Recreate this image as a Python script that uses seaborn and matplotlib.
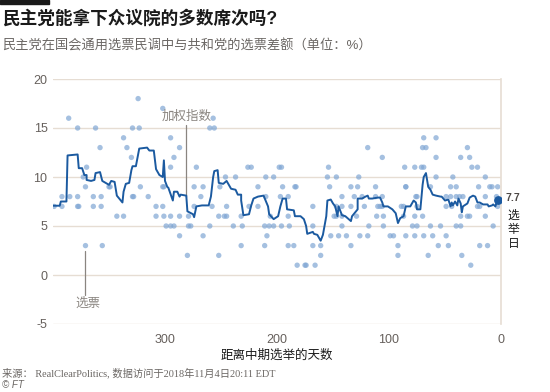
import matplotlib
matplotlib.use("Agg")
import matplotlib.pyplot as plt
import seaborn as sns
import pandas as pd

# ---- data: individual polls (days before election, Dem margin %) ----
poll_days = [399, 392, 392, 386, 385, 378, 378, 378, 377, 373, 371, 371, 370, 364, 364,
             362, 358, 357, 357, 356, 350, 349, 343, 337, 337, 334, 330, 329, 329, 328,
             324, 323, 322, 315, 308, 308, 302, 302, 302, 301, 301, 299, 295, 295, 295,
             295, 292, 292, 287, 287, 287, 280, 279, 279, 277, 274, 274, 272, 268, 266,
             266, 260, 260, 258, 257, 256, 252, 252, 251, 247, 246, 245, 245, 239, 237,
             232, 232, 231, 226, 225, 223, 217, 217, 211, 211, 210, 210, 209, 207, 203,
             203, 198, 206, 197, 196, 196, 195, 190, 190, 189, 190, 185, 184, 183, 182,
             175, 174, 168, 168, 168, 166, 161, 161, 155, 154, 153, 152, 149, 147, 147,
             147, 145, 142, 142, 142, 142, 138, 134, 134, 134, 131, 129, 128, 127, 126,
             124, 122, 119, 119, 118, 112, 112, 111, 110, 108, 106, 106, 106, 105, 105,
             99, 96, 92, 92, 89, 87, 87, 86, 85, 85, 85, 79, 77, 77, 77, 76, 75, 75, 75,
             71, 69, 70, 67, 69, 70, 69, 65, 63, 63, 61, 58, 58, 58, 56, 54, 49, 49, 49,
             47, 45, 40, 45, 40, 44, 43, 40, 37, 34, 36, 36, 35, 36, 28, 30, 30, 28, 27,
             26, 21, 21, 19, 20, 19, 14, 14, 14, 12, 10, 8, 7, 4, 3, 3]
poll_margin = [7, 7, 8, 16, 8, 15, 8, 7, 7, 10, 9, 3, 11, 8, 7,
               15, 13, 8, 7, 3, 9, 9, 6, 14, 6, 13, 12, 15, 8, 8,
               18, 15, 9, 8, 7, 6, 17, 7, 9, 9, 6, 5, 14, 11, 5,
               6, 5, 12, 13, 6, 4, 2, 6, 5, 5, 9, 7, 11, 8, 9,
               4, 15, 5, 7, 16, 15, 6, 2, 9, 6, 10, 6, 7, 5, 10,
               6, 3, 5, 11, 7, 11, 7, 9, 5, 3, 8, 10, 4, 5, 5,
               10, 11, 6, 8, 5, 11, 9, 8, 6, 5, 3, 3, 9, 9, 1,
               1, 1, 7, 5, 3, 1, 3, 2, 10, 11, 9, 4, 6, 6, 7,
               10, 4, 8, 7, 6, 5, 4, 7, 9, 3, 8, 6, 9, 10, 4,
               8, 7, 13, 4, 5, 8, 9, 6, 7, 7, 7, 12, 8, 6, 5,
               4, 4, 3, 2, 7, 7, 6, 11, 9, 9, 4, 5, 6, 11, 4, 8, 8, 7, 5,
               11, 11, 13, 13, 14, 6, 4, 2, 5, 9, 4, 14, 12, 10, 3, 5, 8, 7, 4,
               3, 8, 8, 9, 9, 7, 10, 5, 8, 8, 6, 5, 2, 12, 12, 13, 6, 6, 1,
               11, 11, 7, 7, 9, 3, 8, 6, 10, 3, 9, 9, 5, 8, 7, 9]

# ---- data: weighted index ----
avg_days = [400, 394, 393, 388, 387, 378, 377, 374, 372, 370, 370, 366, 363, 362, 358,
            356, 350, 348, 345, 343, 338, 337, 335, 332, 330, 329, 326, 323, 316, 314,
            310, 308, 305, 302, 301, 300, 298, 297, 293, 292, 289, 287, 286, 281, 280,
            280, 275, 274, 272, 267, 261, 259, 257, 256, 253, 252, 248, 245, 243, 241,
            237, 235, 232, 232, 230, 225, 223, 221, 217, 212, 208, 207, 203, 199, 197,
            195, 192, 191, 185, 184, 179, 176, 174, 173, 168, 167, 164, 161, 159, 159,
            156, 155, 152, 150, 148, 146, 145, 142, 139, 134, 133, 128, 128, 124, 121,
            119, 118, 115, 110, 108, 106, 105, 101, 97, 94, 92, 90, 87, 85, 81,
            78, 76, 75, 72, 70, 69, 67, 65, 63, 61, 58, 54, 53, 50, 47,
            45, 44, 43, 41, 39, 38, 36, 35, 34, 30, 28, 25, 23, 21, 19,
            16, 12, 11, 8, 7, 5, 4, 3]
avg_margin = [7.07, 7.07, 7.5, 7.5, 12.2, 12.3, 10.9, 10.9, 10.2, 10.2, 9.7, 9.6, 9.7, 10.4, 10.5,
              9.6, 9.2, 9.6, 9.5, 8.1, 7.4, 8.5, 9.3, 9.4, 10.7, 11.1, 11.1, 12.9, 13.0, 12.7,
              12.7, 10.8, 10.2, 10.0, 11.7, 9.6, 9.0, 8.9, 7.6, 8.5, 8.5, 8.0, 8.2, 8.1, 6.6,
              6.5, 6.2, 5.9, 7.0, 7.1, 7.1, 8.0, 10.0, 10.6, 10.7, 9.4, 9.3, 9.6, 9.2, 8.8,
              8.7, 8.2, 8.2, 7.6, 6.1, 6.2, 7.1, 7.8, 8.0, 8.1, 7.0, 6.2, 5.7, 6.0, 7.0,
              7.8, 7.8, 6.7, 6.6, 6.0, 6.0, 5.7, 5.0, 4.2, 4.4, 4.2, 4.1, 3.5, 4.1, 4.1,
              6.0, 7.6, 7.7, 7.3, 7.0, 6.0, 7.0, 6.1, 6.0, 5.5, 6.0, 6.7, 7.8, 7.8, 8.0,
              8.1, 7.8, 7.8, 7.9, 7.9, 7.4, 7.0, 7.0, 6.7, 6.3, 5.3, 5.8, 6.0, 7.0, 7.0,
              7.6, 7.4, 6.7, 6.7, 9.2, 10.0, 10.4, 9.0, 8.7, 8.2, 8.1, 8.0, 8.0, 7.6, 7.7,
              7.0, 7.4, 7.1, 7.5, 7.1, 7.8, 7.3, 6.4, 7.0, 7.3, 7.9, 8.1, 8.0, 7.4, 7.4,
              7.2, 7.2, 7.0, 7.1, 7.2, 7.0, 7.4, 7.7]

y_ticks = [-5, 0, 5, 10, 15, 20]
x_ticks = [300, 200, 100, 0]

title = "民主党能拿下众议院的多数席次吗?"
subtitle = "民主党在国会通用选票民调中与共和党的选票差额（单位：%）"
xlabel = "距离中期选举的天数"
source = "来源： RealClearPolitics, 数据访问于2018年11月4日20:11 EDT"

polls = pd.DataFrame({"days": poll_days, "margin": poll_margin})
avg = pd.DataFrame({"days": avg_days, "margin": avg_margin})

sns.set_style("white")
plt.rcParams["font.family"] = ["Liberation Sans", "Noto Sans CJK SC", "DejaVu Sans"]

fig = plt.figure(figsize=(5.5, 3.92), dpi=100)
ax = fig.add_axes([53 / 550, 1 - 324 / 392, (501 - 53) / 550, (324 - 79) / 392])

grid_c = "#e6ddd3"
for v in y_ticks:
    ax.axhline(v, color=grid_c, lw=1.0, zorder=0)

sns.scatterplot(data=polls, x="days", y="margin", ax=ax, color="#7fa6d4",
                alpha=0.7, s=15, edgecolor="none", zorder=2)
sns.lineplot(data=avg, x="days", y="margin", ax=ax, color="#1b5aa0",
             lw=1.4, estimator=None, sort=False, zorder=3)
ax.scatter([avg_days[-1]], [avg_margin[-1]], color="#1b5aa0", s=28, zorder=4)

ax.set_xlim(400, 0)
ax.set_ylim(-5, 20)
ax.set_xticks(x_ticks)
ax.set_yticks(y_ticks)
ax.set_xticklabels([str(t) for t in x_ticks])
ax.set_yticklabels([str(t) for t in y_ticks])
ax.tick_params(axis="both", labelsize=9, colors="#66605c", length=0, pad=4)
ax.tick_params(axis="x", length=4, color=grid_c, width=1, pad=3)
for s in ["top", "left", "bottom"]:
    ax.spines[s].set_visible(False)
ax.spines["right"].set_color(grid_c)
ax.spines["right"].set_linewidth(1.2)
ax.set_xlabel(xlabel, fontsize=9, color="#1a1a1a", labelpad=3)
ax.set_ylabel("")

# annotations
ann_c = "#8a8580"
ax.plot([281, 281], [8.0, 15.3], color=ann_c, lw=0.9, zorder=1)
ax.text(281, 16.2, "加权指数", ha="center", va="center", fontsize=9, color=ann_c)
ax.plot([371, 371], [2.5, -2.0], color=ann_c, lw=0.9, zorder=1)
ax.text(369, -2.9, "选票", ha="center", va="center", fontsize=9, color=ann_c)
ax.text(-4, avg_margin[-1] + 0.2, "7.7", ha="left", va="center", fontsize=7.5,
        color="#4d4845", fontweight="bold", clip_on=False)
ax.text(-6, 4.6, "选\n举\n日", ha="left", va="center", fontsize=8.5,
        color="#1a1a1a", linespacing=1.25, clip_on=False)

# header
fig.patches.append(plt.Rectangle((0, 1 - 4 / 392), 49 / 550, 4 / 392,
                                 transform=fig.transFigure, color="#1a1a1a"))
fig.text(2 / 550, 1 - 19 / 392, title, fontsize=12.7, fontweight="bold",
         color="#1a1a1a", va="center", ha="left")
fig.text(2 / 550, 1 - 46 / 392, subtitle, fontsize=9.5, color="#6b6764",
         va="center", ha="left")
fig.text(2 / 550, 1 - 373 / 392, source, fontsize=7.4, color="#6b6764",
         va="center", ha="left", family=["Liberation Serif", "Noto Sans CJK SC"])
fig.text(2 / 550, 1 - 385 / 392, "© FT", fontsize=7, color="#6b6764",
         va="center", ha="left", style="italic")

fig.savefig("out.png", dpi=100)
